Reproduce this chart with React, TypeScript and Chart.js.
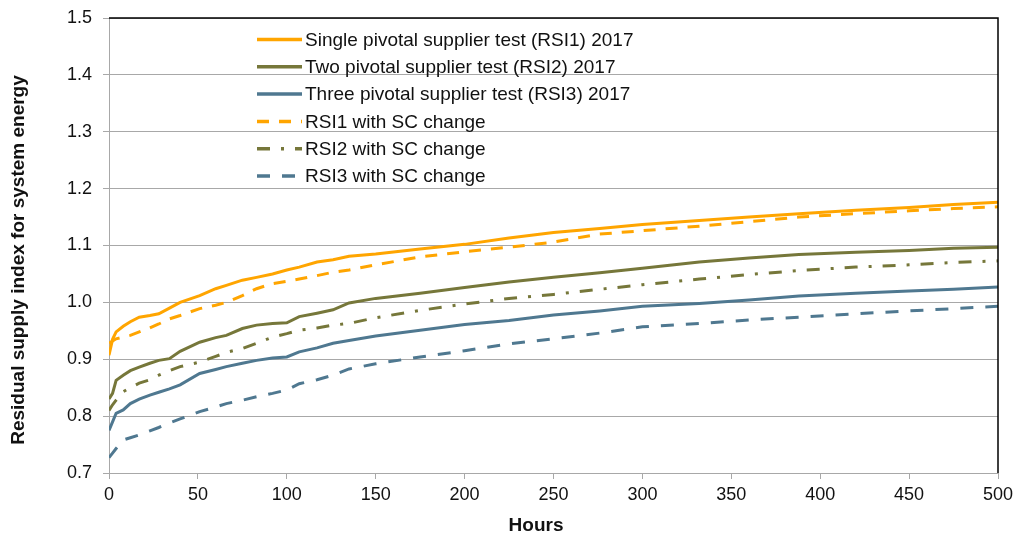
import React, { useEffect, useRef } from "react";
import { Chart, registerables } from "chart.js";

Chart.register(...registerables);

const hours = [0, 2, 4, 8, 12, 17, 23, 28, 34, 40, 51, 60, 66, 75, 83, 92, 100, 107, 117, 126, 135, 150, 175, 200, 225, 250, 276, 300, 332, 360, 388, 420, 450, 475, 500];

const rsi1 = [0.907, 0.935, 0.948, 0.958, 0.966, 0.974, 0.977, 0.98, 0.99, 1.0, 1.012, 1.024, 1.03, 1.039, 1.044, 1.05, 1.057, 1.062, 1.071, 1.075, 1.081, 1.085, 1.094, 1.102, 1.113, 1.123, 1.13, 1.137, 1.144, 1.15, 1.156, 1.162, 1.167, 1.172, 1.176];
const rsi2 = [0.83, 0.84, 0.863, 0.872, 0.88, 0.886, 0.893, 0.898, 0.901, 0.914, 0.93, 0.938, 0.942, 0.954, 0.96, 0.963, 0.964, 0.975, 0.981, 0.987, 0.999, 1.007, 1.016, 1.026, 1.036, 1.044, 1.052, 1.06, 1.071, 1.078, 1.084, 1.088, 1.091, 1.095, 1.097];
const rsi3 = [0.775, 0.79, 0.805, 0.811, 0.822, 0.83, 0.837, 0.842, 0.848, 0.855, 0.875, 0.882, 0.887, 0.893, 0.898, 0.902, 0.904, 0.913, 0.92, 0.928, 0.933, 0.941, 0.951, 0.961, 0.968, 0.978, 0.985, 0.993, 0.998, 1.004, 1.011, 1.016, 1.02, 1.023, 1.027];
const rsi1Sc = [0.928, 0.932, 0.936, 0.939, 0.942, 0.948, 0.955, 0.962, 0.971, 0.977, 0.989, 0.995, 1.0, 1.012, 1.024, 1.033, 1.037, 1.041, 1.047, 1.053, 1.057, 1.066, 1.08, 1.089, 1.097, 1.106, 1.12, 1.126, 1.134, 1.142, 1.15, 1.156, 1.161, 1.165, 1.168];
const rsi2Sc = [0.81, 0.82, 0.828, 0.843, 0.85, 0.858, 0.864, 0.872, 0.88, 0.887, 0.895, 0.905, 0.912, 0.919, 0.928, 0.939, 0.945, 0.951, 0.955, 0.96, 0.963, 0.973, 0.986, 0.997, 1.007, 1.014, 1.023, 1.031, 1.041, 1.049, 1.056, 1.062, 1.066, 1.07, 1.073];
const rsi3Sc = [0.727, 0.735, 0.743, 0.758, 0.762, 0.767, 0.774, 0.78, 0.788, 0.795, 0.808, 0.816, 0.822, 0.828, 0.834, 0.84, 0.846, 0.857, 0.864, 0.872, 0.883, 0.892, 0.904, 0.915, 0.927, 0.936, 0.946, 0.957, 0.963, 0.969, 0.974, 0.98, 0.985, 0.989, 0.993];

const seriesLabels = [
  "Single pivotal supplier test (RSI1) 2017",
  "Two pivotal supplier test (RSI2) 2017",
  "Three pivotal supplier test (RSI3) 2017",
  "RSI1 with SC change",
  "RSI2 with SC change",
  "RSI3 with SC change",
];

const xTicks = [0, 50, 100, 150, 200, 250, 300, 350, 400, 450, 500];
const yTicks = [0.7, 0.8, 0.9, 1.0, 1.1, 1.2, 1.3, 1.4, 1.5];
const xTitle = "Hours";
const yTitle = "Residual supply index for system energy";

const ORANGE = "#FFA500";
const OLIVE = "#76773A";
const BLUE = "#4F7890";
const GRID = "#A8A8A8";
const FONT = "'Liberation Sans', Arial, sans-serif";

export default function App() {
  const ref = useRef<HTMLCanvasElement>(null);

  useEffect(() => {
    const toPts = (v: number[]) => hours.map((h, i) => ({ x: h, y: v[i] }));
    const values = [rsi1, rsi2, rsi3, rsi1Sc, rsi2Sc, rsi3Sc];
    const colors = [ORANGE, OLIVE, BLUE, ORANGE, OLIVE, BLUE];
    const dashes: number[][] = [[], [], [], [12, 10], [13, 11, 3, 11], [13, 12]];

    const datasets = values.map((v, i) => ({
      label: seriesLabels[i],
      data: toPts(v),
      borderColor: colors[i],
      backgroundColor: colors[i],
      borderWidth: 3,
      borderDash: dashes[i],
      borderCapStyle: "butt" as const,
      pointRadius: 0,
      tension: 0,
      fill: false,
      order: i < 3 ? 0 : 1,
    }));

    const framePlugin = {
      id: "frame",
      afterDatasetsDraw(chart: any) {
        const { ctx, chartArea } = chart;
        ctx.save();
        ctx.strokeStyle = "#000";
        ctx.lineWidth = 1.5;
        ctx.beginPath();
        ctx.moveTo(chartArea.left, chartArea.top);
        ctx.lineTo(chartArea.right, chartArea.top);
        ctx.lineTo(chartArea.right, chartArea.bottom);
        ctx.stroke();
        ctx.restore();
      },
    };

    const legendPlugin = {
      id: "customLegend",
      afterDraw(chart: any) {
        const { ctx } = chart;
        ctx.save();
        chart.data.datasets.forEach((ds: any, i: number) => {
          const y = 39.5 + i * 27.3;
          ctx.strokeStyle = ds.borderColor;
          ctx.lineWidth = 3.5;
          ctx.lineCap = "butt";
          ctx.setLineDash(ds.borderDash || []);
          ctx.beginPath();
          ctx.moveTo(257, y);
          ctx.lineTo(302, y);
          ctx.stroke();
          ctx.setLineDash([]);
          ctx.fillStyle = "#111";
          ctx.font = `19px ${FONT}`;
          ctx.textBaseline = "middle";
          ctx.textAlign = "left";
          ctx.fillText(ds.label, 305, y + 1);
        });
        ctx.fillStyle = "#111";
        ctx.font = `bold 19px ${FONT}`;
        ctx.textAlign = "center";
        ctx.textBaseline = "middle";
        ctx.fillText(xTitle, 536, 526);
        ctx.translate(19, 260);
        ctx.rotate(-Math.PI / 2);
        ctx.fillText(yTitle, 0, 0);
        ctx.restore();
      },
    };

    const chart = new Chart(ref.current!, {
      type: "line",
      data: { datasets },
      options: {
        animation: false,
        responsive: false,
        maintainAspectRatio: false,
        layout: { padding: { top: 18, right: 15, left: 0, bottom: 0 } },
        plugins: { legend: { display: false }, tooltip: { enabled: false } },
        scales: {
          x: {
            type: "linear",
            min: 0,
            max: 500,
            afterBuildTicks: (axis: any) => {
              axis.ticks = xTicks.map((v) => ({ value: v }));
            },
            afterFit: (s: any) => {
              s.height = 62;
              s.paddingRight = 0;
              s.paddingLeft = 0;
            },
            ticks: {
              color: "#111",
              font: { family: FONT, size: 18 },
              padding: 5,
              maxRotation: 0,
              autoSkip: false,
              callback: (v: any) => String(v),
            },
            grid: { drawOnChartArea: false, drawTicks: true, tickLength: 6, color: GRID },
            border: { color: GRID, width: 1 },
          },
          y: {
            type: "linear",
            min: 0.7,
            max: 1.5,
            afterBuildTicks: (axis: any) => {
              axis.ticks = yTicks.map((v) => ({ value: v }));
            },
            afterFit: (s: any) => {
              s.width = 109;
              s.paddingTop = 0;
              s.paddingBottom = 0;
            },
            ticks: {
              color: "#111",
              font: { family: FONT, size: 18 },
              padding: 11,
              autoSkip: false,
              callback: (v: any) => Number(v).toFixed(1),
            },
            grid: { color: GRID, lineWidth: 1, tickLength: 6, drawTicks: true },
            border: { color: GRID, width: 1 },
          },
        },
      },
      plugins: [framePlugin, legendPlugin],
    });

    return () => chart.destroy();
  }, []);

  return (
    <div style={{ position: "absolute", left: 0, top: 0, width: 1013, height: 535, background: "#fff" }}>
      <canvas ref={ref} width={1013} height={535} style={{ display: "block" }} />
    </div>
  );
}
